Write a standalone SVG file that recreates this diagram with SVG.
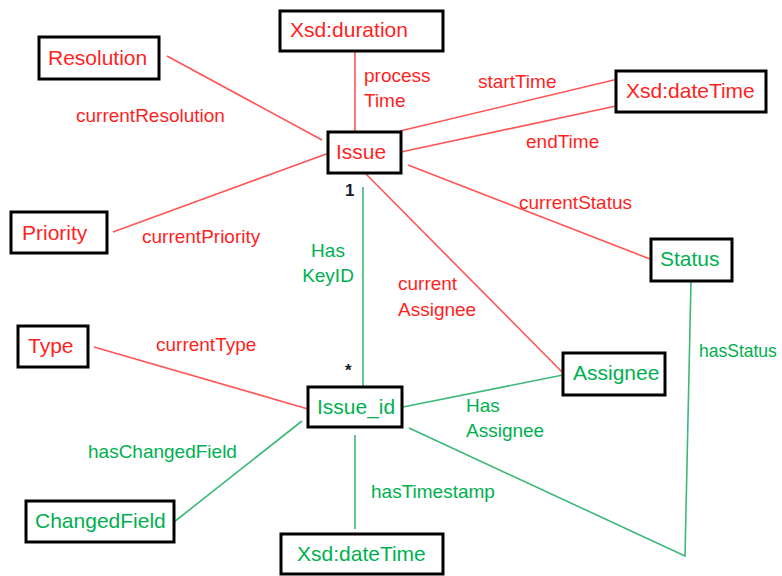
<svg xmlns="http://www.w3.org/2000/svg" width="782" height="576" viewBox="0 0 782 576">
<style>
.box{fill:#fff;stroke:#000;stroke-width:3}
.nt{font-family:"Liberation Sans",Arial,sans-serif;font-size:21px}
.lt{font-family:"Liberation Sans",Arial,sans-serif;font-size:19px}
.r{fill:#ff1f1f}
.g{fill:#00b050}
.rl{stroke:#ff5555;stroke-width:1.6;fill:none}
.gl{stroke:#3cb878;stroke-width:1.6;fill:none}
.m{font-family:"Liberation Sans",Arial,sans-serif;font-size:17px;font-weight:bold;fill:#1a1a2a}
</style>
<rect width="782" height="576" fill="#fff"/>
<g id="connectors">
<line class="rl" x1="167" y1="56" x2="322" y2="140"/>
<line class="rl" x1="355" y1="51" x2="355" y2="132"/>
<line class="rl" x1="400" y1="131" x2="618" y2="79"/>
<line class="rl" x1="401" y1="152" x2="616" y2="106"/>
<line class="rl" x1="408" y1="165" x2="650" y2="259"/>
<line class="rl" x1="329" y1="153" x2="113" y2="232"/>
<line class="rl" x1="365" y1="173" x2="563" y2="373"/>
<line class="rl" x1="94" y1="347" x2="308" y2="409"/>
<line class="gl" x1="363" y1="187" x2="363" y2="387"/>
<line class="gl" x1="403" y1="407" x2="563" y2="375"/>
<line class="gl" x1="302" y1="421" x2="174" y2="522"/>
<line class="gl" x1="355" y1="435" x2="355" y2="529"/>
<polyline class="gl" points="409,428 685,556 691,281"/>
<text class="lt r" x="364" y="82">process</text>
<text class="lt r" x="364" y="107">Time</text>
<text class="lt r" x="76" y="122">currentResolution</text>
<text class="lt r" x="478" y="88">startTime</text>
<text class="lt r" x="526" y="148">endTime</text>
<text class="lt r" x="519" y="209">currentStatus</text>
<text class="lt r" x="142" y="243">currentPriority</text>
<text class="lt r" x="398" y="290">current</text>
<text class="lt r" x="398" y="316">Assignee</text>
<text class="lt r" x="156" y="351">currentType</text>
<text class="lt g" x="328" y="257" text-anchor="middle">Has</text>
<text class="lt g" x="328" y="282" text-anchor="middle">KeyID</text>
<text class="lt g" x="88" y="458">hasChangedField</text>
<text class="lt g" x="371" y="498">hasTimestamp</text>
<text class="lt g" x="466" y="412">Has</text>
<text class="lt g" x="466" y="437">Assignee</text>
<text class="lt g" x="699" y="357" style="font-size:17.5px">hasStatus</text>
<text class="m" x="345" y="196">1</text>
<text class="m" x="345" y="376">*</text>
</g>
<g id="resolution"><rect class="box" x="39" y="37" width="120" height="42"/><text class="nt r" x="48" y="65">Resolution</text></g>
<g id="xsd-duration"><rect class="box" x="280" y="11" width="163" height="40"/><text class="nt r" x="290" y="37">Xsd:duration</text></g>
<g id="issue"><rect class="box" x="328" y="132" width="73" height="41"/><text class="nt r" x="336" y="159">Issue</text></g>
<g id="xsd-datetime-top"><rect class="box" x="616" y="71" width="150" height="41"/><text class="nt r" x="626" y="98">Xsd:dateTime</text></g>
<g id="status"><rect class="box" x="651" y="239" width="81" height="42"/><text class="nt g" x="660" y="266">Status</text></g>
<g id="priority"><rect class="box" x="11" y="212" width="96" height="41"/><text class="nt r" x="22" y="240">Priority</text></g>
<g id="type"><rect class="box" x="18" y="326" width="70" height="41"/><text class="nt r" x="28" y="353">Type</text></g>
<g id="issue-id"><rect class="box" x="308" y="387" width="94" height="40"/><text class="nt g" x="317" y="414">Issue_id</text></g>
<g id="assignee"><rect class="box" x="563" y="353" width="102" height="42"/><text class="nt g" x="573" y="380">Assignee</text></g>
<g id="changedfield"><rect class="box" x="26" y="501" width="148" height="41"/><text class="nt g" x="35" y="528">ChangedField</text></g>
<g id="xsd-datetime-bottom"><rect class="box" x="281" y="534" width="162" height="40"/><text class="nt g" x="297" y="561">Xsd:dateTime</text></g>
</svg>
